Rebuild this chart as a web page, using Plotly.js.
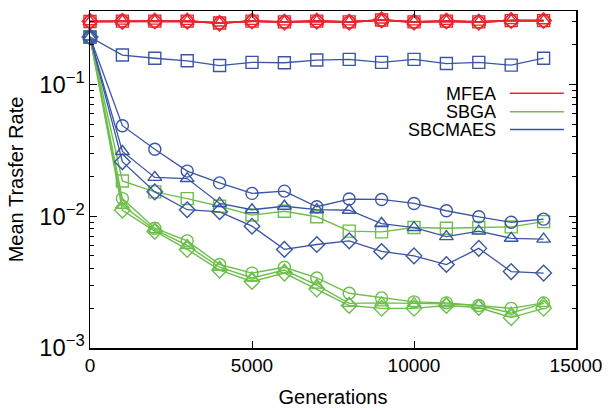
<!DOCTYPE html>
<html>
<head>
<meta charset="utf-8">
<script src="https://cdn.plot.ly/plotly-3.0.1.min.js"></script>
<style>html,body{margin:0;padding:0;background:#fff;}#chart{width:608px;height:411px;}</style>
</head>
<body>
<div id="chart"></div>
<script>
// Generations (x)
const generations = [0,1000,2000,3000,4000,5000,6000,7000,8000,9000,10000,11000,12000,13000,14000];

// MFEA (red)
const mfeaCircle   = [0.300,0.303,0.301,0.302,0.293,0.302,0.297,0.302,0.297,0.307,0.297,0.302,0.298,0.304,0.305];
const mfeaTriangle = [0.299,0.302,0.302,0.301,0.292,0.301,0.298,0.301,0.298,0.308,0.298,0.301,0.297,0.305,0.304];
const mfeaSquare   = [0.300,0.302,0.302,0.302,0.292,0.302,0.298,0.302,0.298,0.308,0.298,0.302,0.298,0.305,0.305];
const mfeaDiamond  = [0.301,0.301,0.303,0.302,0.291,0.303,0.297,0.302,0.297,0.309,0.297,0.303,0.297,0.306,0.305];

// SBGA (green)
const sbgaCircle   = [0.229,0.0136,0.0081,0.0065,0.0043,0.0037,0.0041,0.0034,0.0026,0.0024,0.00224,0.0022,0.0021,0.0020,0.0022];
const sbgaTriangle = [0.229,0.0121,0.0079,0.0060,0.0041,0.0034,0.0039,0.0030,0.00218,0.0022,0.00218,0.00216,0.0021,0.00184,0.00218];
const sbgaSquare   = [0.229,0.0185,0.0153,0.0136,0.0119,0.0102,0.0109,0.0099,0.0077,0.0076,0.0082,0.0081,0.0082,0.0083,0.0091];
const sbgaDiamond  = [0.229,0.0111,0.0077,0.0056,0.0039,0.0032,0.0037,0.0028,0.0021,0.0020,0.0020,0.0021,0.00203,0.0017,0.0020];

// SBCMAES (blue)
const sbcmaesCircle   = [0.229,0.0486,0.0322,0.0220,0.0179,0.0149,0.0155,0.0118,0.0135,0.0134,0.0125,0.0110,0.0099,0.0090,0.0095];
const sbcmaesTriangle = [0.229,0.0310,0.0197,0.0193,0.0125,0.0112,0.0119,0.0112,0.0111,0.0088,0.0082,0.0070,0.0077,0.0068,0.0067];
const sbcmaesSquare   = [0.229,0.167,0.158,0.151,0.139,0.147,0.146,0.153,0.155,0.147,0.155,0.144,0.147,0.140,0.158];
const sbcmaesDiamond  = [0.229,0.0259,0.0153,0.0112,0.0108,0.0084,0.0056,0.0061,0.0065,0.0054,0.0050,0.0043,0.0057,0.0038,0.0037];

// Legend labels
const legendNames = ['MFEA','SBGA','SBCMAES'];

const RED = '#e8262e', GREEN = '#6cbf4a', BLUE = '#3a55a6';
const FONT = 'Liberation Sans, Arial, sans-serif';

function tr(y, color, symbol, lw, size) {
  return {
    x: generations, y: y, type: 'scatter', mode: 'lines+markers',
    line: {color: color, width: lw},
    marker: {symbol: symbol, size: size, color: color, line: {color: color, width: 1.4}},
    cliponaxis: false, showlegend: false, hoverinfo: 'skip'
  };
}

const data = [
  tr(sbgaCircle, GREEN, 'circle-open', 1.4, 12),
  tr(sbgaTriangle, GREEN, 'triangle-up-open', 1.4, 12),
  tr(sbgaSquare, GREEN, 'square-open', 1.4, 12),
  tr(sbgaDiamond, GREEN, 'diamond-open', 1.4, 12),
  tr(sbcmaesCircle, BLUE, 'circle-open', 1.3, 12),
  tr(sbcmaesTriangle, BLUE, 'triangle-up-open', 1.3, 12),
  tr(sbcmaesSquare, BLUE, 'square-open', 1.3, 12),
  tr(sbcmaesDiamond, BLUE, 'diamond-open', 1.3, 12),
  tr(mfeaCircle, RED, 'circle-open', 1.6, 12),
  tr(mfeaTriangle, RED, 'triangle-up-open', 1.6, 12),
  tr(mfeaSquare, RED, 'square-open', 1.6, 12),
  tr(mfeaDiamond, RED, 'diamond-open', 1.6, 12)
];

const legendColors = [RED, GREEN, BLUE];
const legendY = [0.756, 0.701, 0.648];
const annotations = legendNames.map((n, i) => ({
  xref: 'paper', yref: 'paper', x: 0.838, y: legendY[i],
  xanchor: 'right', yanchor: 'middle', text: n, showarrow: false,
  height: 15, borderpad: 0, valign: 'middle',
  font: {family: FONT, size: 18, color: '#000'}
}));
const shapes = legendNames.map((n, i) => ({
  type: 'line', xref: 'paper', yref: 'paper',
  x0: 0.864, x1: 0.975, y0: legendY[i], y1: legendY[i],
  line: {color: legendColors[i], width: 1.5}
}));

const layout = {
  width: 608, height: 411,
  margin: {l: 90, r: 32, t: 11, b: 63},
  paper_bgcolor: '#fff', plot_bgcolor: '#fff',
  font: {family: FONT, size: 19, color: '#000'},
  showlegend: false,
  xaxis: {
    range: [0, 15000], tickvals: [0, 5000, 10000, 15000], tickformat: 'd',
    ticks: 'inside', ticklen: 7, tickwidth: 1, tickcolor: '#000',
    tickfont: {family: FONT, size: 19},
    showline: true, linecolor: '#000', linewidth: 1.5, mirror: 'ticks',
    showgrid: false, zeroline: false,
    title: {text: 'Generations', font: {family: FONT, size: 20}, standoff: 14}
  },
  yaxis: {
    type: 'log', range: [-3, -0.443], dtick: 1, exponentformat: 'power',
    ticks: 'inside', ticklen: 7, tickwidth: 1, tickcolor: '#000',
    tickfont: {family: FONT, size: 19},
    minor: {ticks: 'inside', ticklen: 4, tickcolor: '#000', dtick: 'D1', showgrid: false},
    showline: true, linecolor: '#000', linewidth: 1.5, mirror: 'ticks',
    showgrid: false, zeroline: false,
    title: {text: 'Mean Trasfer Rate', font: {family: FONT, size: 20}, standoff: 10}
  },
  annotations: annotations,
  shapes: shapes
};

Plotly.newPlot('chart', data, layout, {displayModeBar: false, staticPlot: true});
</script>
</body>
</html>
